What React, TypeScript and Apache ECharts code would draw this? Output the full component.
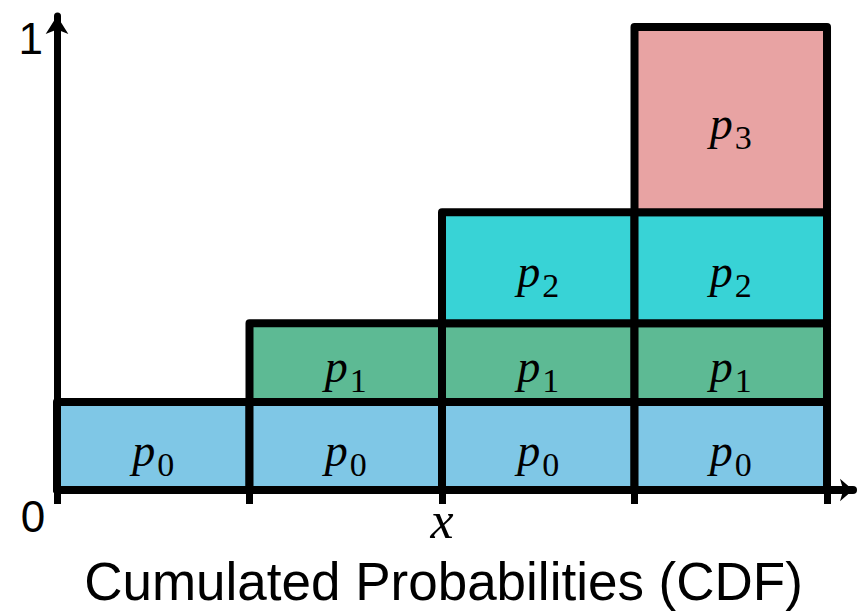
import React, { useEffect, useRef } from "react";
import * as echarts from "echarts";

// Probability of each outcome (stacked into the CDF)
const probabilities = [0.19, 0.17, 0.24, 0.4];
const outcomeIndex = [0, 1, 2, 3];
const segmentColors = ["#7FC7E6", "#5DBA94", "#38D3D6", "#E8A3A3"];
const xTickValues = [0, 1, 2, 3, 4];
const xLabelValues = [0, 2];
const xLabelTexts = ["0", "x"];
const yLabelValues = [1];
const yLabelTexts = ["1"];
const titleText = "Cumulated Probabilities (CDF)";

export default function App() {
  const ref = useRef<HTMLDivElement>(null);
  useEffect(() => {
    document.body.style.margin = "0";
    const chart = echarts.init(ref.current!, null, { renderer: "svg" });
    // build stacked rectangles: column i holds p0..pi
    const data: number[][] = [];
    outcomeIndex.forEach((col) => {
      let base = 0;
      for (let k = 0; k <= col; k++) {
        data.push([col, base, base + probabilities[k], k]);
        base += probabilities[k];
      }
    });
    chart.setOption({
      animation: false,
      grid: { left: 57, right: 5, top: 16, bottom: 121, outerBoundsMode: "none", containLabel: false },
      xAxis: {
        type: "value",
        min: 0,
        max: 4.135,
        interval: 1,
        splitLine: { show: false },
        axisLine: {
          show: true,
          lineStyle: { color: "#000", width: 8 },
          symbol: ["none", "arrow"],
          symbolSize: [17, 13],
        },
        axisTick: { show: true, customValues: xTickValues, length: 14, lineStyle: { color: "#000", width: 7 } },
        axisLabel: {
          show: true,
          customValues: xLabelValues,
          margin: 4,
          formatter: (v: number) => {
            const idx = xLabelValues.indexOf(v);
            if (idx === 0) return `{zero|${xLabelTexts[0]}}`;
            if (idx === 1) return `{xv|${xLabelTexts[1]}}`;
            return "";
          },
          rich: {
            zero: { fontSize: 44, fontFamily: "Liberation Sans", color: "#000", padding: [0, 48, 0, 0], lineHeight: 44 },
            xv: { fontSize: 52, fontFamily: "Liberation Serif", fontStyle: "italic", color: "#000", lineHeight: 52 },
          },
        },
      },
      yAxis: {
        type: "value",
        min: 0,
        max: 1.024,
        interval: 1,
        splitLine: { show: false },
        axisLine: {
          show: true,
          lineStyle: { color: "#000", width: 7 },
          symbol: ["none", "arrow"],
          symbolSize: [17, 18],
        },
        axisTick: { show: false },
        axisLabel: {
          show: true,
          customValues: yLabelValues,
          margin: 14,
          formatter: (v: number) => {
            const idx = yLabelValues.indexOf(v);
            return idx >= 0 ? `{one|${yLabelTexts[idx]}}` : "";
          },
          rich: {
            one: { fontSize: 44, fontFamily: "Liberation Sans", color: "#000", padding: [22, 0, 0, 0], lineHeight: 44 },
          },
        },
      },
      graphic: [
        {
          type: "text",
          x: 443.5,
          y: 581,
          style: {
            text: titleText,
            fontSize: 53,
            fontFamily: "Liberation Sans",
            fill: "#000",
            align: "center",
            verticalAlign: "middle",
          },
        },
      ],
      series: [
        {
          type: "custom",
          data,
          z: 5,
          renderItem: (params: any, api: any) => {
            const i = api.value(0);
            const lo = api.value(1);
            const hi = api.value(2);
            const k = api.value(3);
            const a = api.coord([i, lo]);
            const b = api.coord([i + 1, hi]);
            return {
              type: "rect",
              shape: { x: a[0], y: b[1], width: b[0] - a[0], height: a[1] - b[1] },
              style: { fill: segmentColors[k], stroke: "#000", lineWidth: 8, lineJoin: "round" },
              textContent: {
                style: {
                  text: `{p|p}{s|${k}}`,
                  rich: {
                    p: { fontSize: 46, fontFamily: "Liberation Serif", fontStyle: "italic", fill: "#000", lineHeight: 46, verticalAlign: "top" },
                    s: { fontSize: 34, fontFamily: "Liberation Serif", fill: "#000", lineHeight: 34, verticalAlign: "top", padding: [20, 0, 0, 2] },
                  },
                },
              },
              textConfig: { position: "inside", offset: [0, 4] },
            };
          },
        },
      ],
    });
    return () => chart.dispose();
  }, []);
  return <div ref={ref} style={{ width: 858, height: 611 }} />;
}
